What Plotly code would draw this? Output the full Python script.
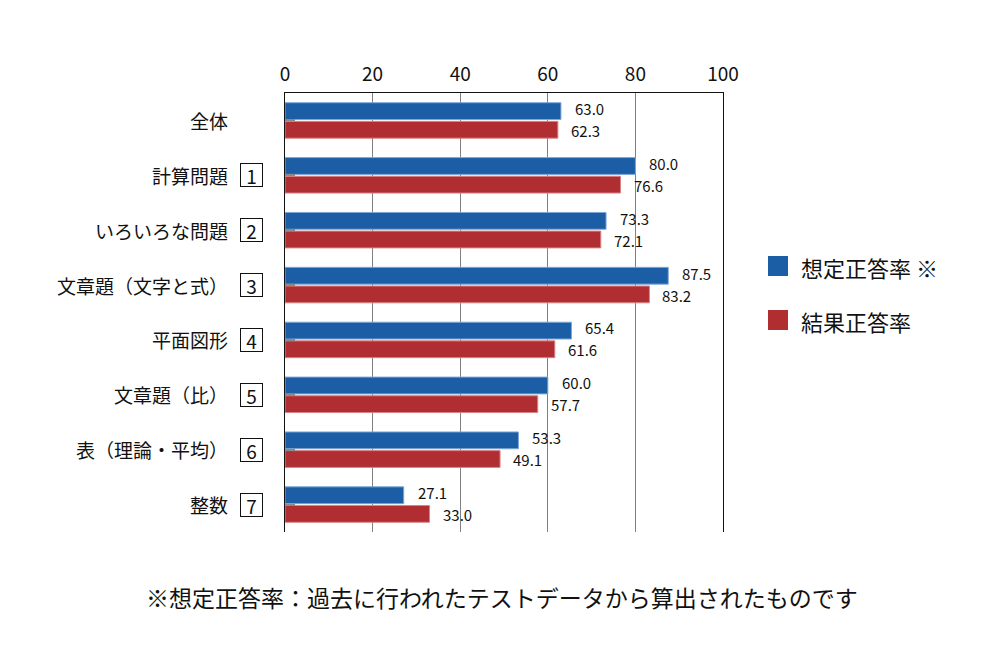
import plotly.graph_objects as go

categories = ["全体", "計算問題", "いろいろな問題", "文章題（文字と式）", "平面図形",
              "文章題（比）", "表（理論・平均）", "整数"]
box_numbers = ["", "1", "2", "3", "4", "5", "6", "7"]
expected = [63.0, 80.0, 73.3, 87.5, 65.4, 60.0, 53.3, 27.1]
actual = [62.3, 76.6, 72.1, 83.2, 61.6, 57.7, 49.1, 33.0]
series_names = ["想定正答率 ※", "結果正答率"]
x_ticks = [0, 20, 40, 60, 80, 100]
note = "※想定正答率：過去に行われたテストデータから算出されたものです"

FONT = "Noto Sans CJK JP"
BLUE = "#1b5ea6"
RED = "#b02e31"

W, H = 1000, 660
L, R, T, B = 285, 723, 93, 532


def px2x(p):
    return (p - L) / (R - L)


def px2y(p):
    return (B - p) / (B - T)


fig = go.Figure()
fig.add_trace(go.Bar(y=categories, x=expected, orientation="h", name=series_names[0],
                     marker=dict(color=BLUE, line=dict(color="#7fa6d6", width=1))))
fig.add_trace(go.Bar(y=categories, x=actual, orientation="h", name=series_names[1],
                     marker=dict(color=RED, line=dict(color="#d98585", width=1))))

annotations = []
for c, v in zip(categories, expected):
    annotations.append(dict(x=v, y=c, xref="x", yref="y", text=f"{v:.1f}", showarrow=False,
                            xanchor="left", yanchor="middle", xshift=12, yshift=12,
                            font=dict(family=FONT, size=15, color="#111")))
for c, v in zip(categories, actual):
    annotations.append(dict(x=v, y=c, xref="x", yref="y", text=f"{v:.1f}", showarrow=False,
                            xanchor="left", yanchor="middle", xshift=11, yshift=-10,
                            font=dict(family=FONT, size=15, color="#111")))
for c, n in zip(categories, box_numbers):
    annotations.append(dict(x=px2x(230), y=c, xref="paper", yref="y", text=c, showarrow=False,
                            xanchor="right", yanchor="middle",
                            font=dict(family=FONT, size=19, color="#111")))
    if n:
        annotations.append(dict(x=px2x(251), y=c, xref="paper", yref="y", text=n,
                                showarrow=False, xanchor="center", yanchor="middle",
                                width=21, height=22, bordercolor="#111", borderwidth=1,
                                borderpad=0,
                                font=dict(family=FONT, size=19, color="#111")))

# legend
legend_items = [(series_names[0], BLUE, 256, 276), (series_names[1], RED, 310, 330)]
shapes = []
for name, col, y0, y1 in legend_items:
    shapes.append(dict(type="rect", xref="paper", yref="paper", x0=px2x(768), x1=px2x(788),
                       y0=px2y(y1), y1=px2y(y0), fillcolor=col, line=dict(width=0)))
    annotations.append(dict(x=px2x(799), y=px2y((y0 + y1) / 2 + 1), xref="paper", yref="paper",
                            text=name, showarrow=False, xanchor="left", yanchor="middle",
                            font=dict(family=FONT, size=22, color="#111")))

annotations.append(dict(x=px2x(502), y=px2y(597), xref="paper", yref="paper", text=note,
                        showarrow=False, xanchor="center", yanchor="middle",
                        font=dict(family=FONT, size=23, color="#111")))

fig.update_layout(
    width=W, height=H,
    margin=dict(l=L, r=W - R, t=T, b=H - B, pad=0),
    paper_bgcolor="white", plot_bgcolor="white",
    barmode="group", bargap=0.32, bargroupgap=0.1,
    showlegend=False,
    annotations=annotations, shapes=shapes,
    xaxis=dict(range=[0, 100], side="top", tickvals=x_ticks, ticktext=[str(t) for t in x_ticks],
               showgrid=True, gridcolor="#808080", gridwidth=1, zeroline=False,
               showline=True, linecolor="#111", linewidth=1, ticks="", ticklabelstandoff=3,
               tickfont=dict(family=FONT, size=19, color="#111"), fixedrange=True),
    yaxis=dict(categoryorder="array", categoryarray=categories, autorange="reversed",
               showticklabels=False, ticks="inside", ticklen=10, tickwidth=2, tickcolor="#8a8a8a",
               showline=True, linecolor="#111", linewidth=1, mirror=True, showgrid=False,
               fixedrange=True),
    font=dict(family=FONT),
)

fig.write_html("out.html", config={"displayModeBar": False},
               post_script="document.body.style.margin='0px';document.body.style.padding='0px';")
